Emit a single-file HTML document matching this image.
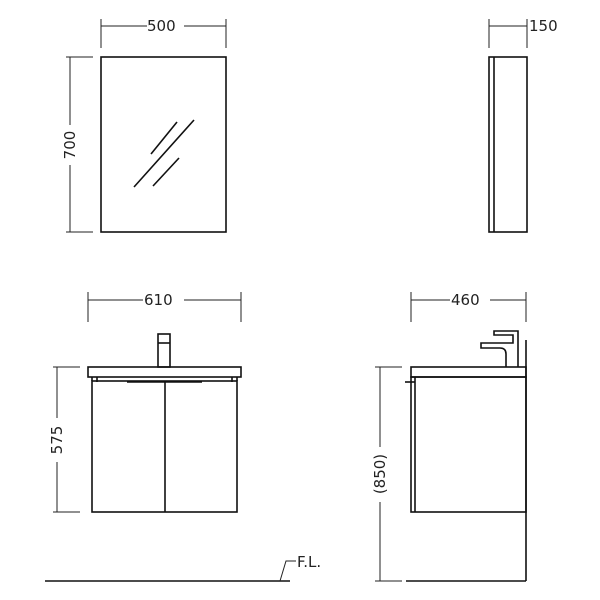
<!DOCTYPE html>
<html><head><style>body{margin:0;background:#fff}svg{display:block}text{font-family:"DejaVu Sans","Liberation Sans",sans-serif;font-size:15px;fill:#222}</style></head>
<body>
<svg width="600" height="600" viewBox="0 0 600 600" xmlns="http://www.w3.org/2000/svg">
<g fill="none" stroke="#222" stroke-width="1">
<!-- top mirror dims -->
<line x1="101" y1="19" x2="101" y2="48"/><line x1="226" y1="19" x2="226" y2="48"/>
<line x1="101" y1="26" x2="147" y2="26"/><line x1="184" y1="26" x2="226" y2="26"/>
<line x1="66" y1="57" x2="93" y2="57"/><line x1="66" y1="232" x2="93" y2="232"/>
<line x1="70" y1="57" x2="70" y2="125"/><line x1="70" y1="165" x2="70" y2="232"/>
<!-- side mirror dims -->
<line x1="489" y1="19" x2="489" y2="48"/><line x1="527" y1="19" x2="527" y2="48"/>
<line x1="489" y1="26" x2="527" y2="26"/>
<!-- 610 -->
<line x1="88" y1="292" x2="88" y2="322"/><line x1="241" y1="292" x2="241" y2="322"/>
<line x1="88" y1="300" x2="143" y2="300"/><line x1="184" y1="300" x2="241" y2="300"/>
<!-- 575 -->
<line x1="53" y1="367" x2="80" y2="367"/><line x1="53" y1="512" x2="80" y2="512"/>
<line x1="57" y1="367" x2="57" y2="418"/><line x1="57" y1="462" x2="57" y2="512"/>
<!-- 460 -->
<line x1="411" y1="292" x2="411" y2="322"/><line x1="526" y1="292" x2="526" y2="322"/>
<line x1="411" y1="300" x2="450" y2="300"/><line x1="490" y1="300" x2="526" y2="300"/>
<!-- 850 -->
<line x1="375" y1="367" x2="402" y2="367"/><line x1="375" y1="581" x2="402" y2="581"/>
<line x1="380" y1="367" x2="380" y2="447"/><line x1="380" y1="502" x2="380" y2="581"/>
</g>
<g fill="none" stroke="#111" stroke-width="1.6">
<rect x="101" y="57" width="125" height="175"/>
<line x1="134" y1="187" x2="194" y2="120"/><line x1="151" y1="154" x2="177" y2="122"/><line x1="153" y1="186" x2="179" y2="158"/>
<rect x="489" y="57" width="38" height="175"/><line x1="494" y1="57" x2="494" y2="232"/>
<!-- front vanity -->
<rect x="88" y="367" width="153" height="10"/>
<rect x="92" y="381" width="145" height="131"/>
<line x1="165" y1="381" x2="165" y2="512"/>
<line x1="92" y1="377" x2="92" y2="381"/><line x1="237" y1="377" x2="237" y2="381"/>
<line x1="97" y1="377" x2="97" y2="382"/><line x1="232" y1="377" x2="232" y2="382"/>
<line x1="127" y1="382" x2="202" y2="382"/>
<rect x="158" y="334" width="12" height="33"/><line x1="158" y1="343" x2="170" y2="343"/>
<!-- side vanity -->
<rect x="411" y="367" width="115" height="10"/>
<rect x="411" y="377" width="115" height="135"/>
<line x1="415" y1="377" x2="415" y2="512"/>
<line x1="405" y1="382" x2="415" y2="382"/>
<line x1="526" y1="340" x2="526" y2="581"/>
<line x1="406" y1="581" x2="526" y2="581"/>
<path d="M506 367 V354 Q506 348 500 348 H481 V343 H513 V335 H494 V331 H518 V367"/>
<!-- floor -->
<line x1="45" y1="581" x2="290" y2="581"/>
</g>
<polyline points="280,581 286,561 296,561" fill="none" stroke="#222" stroke-width="1"/>
<text x="147" y="31">500</text>
<text x="529" y="31">150</text>
<text x="144" y="305">610</text>
<text x="451" y="305">460</text>
<text x="297" y="567">F.L.</text>
<text transform="translate(75,145) rotate(-90)" text-anchor="middle">700</text>
<text transform="translate(62,440) rotate(-90)" text-anchor="middle">575</text>
<text transform="translate(385,474) rotate(-90)" text-anchor="middle">(850)</text>
</svg>
</body></html>
